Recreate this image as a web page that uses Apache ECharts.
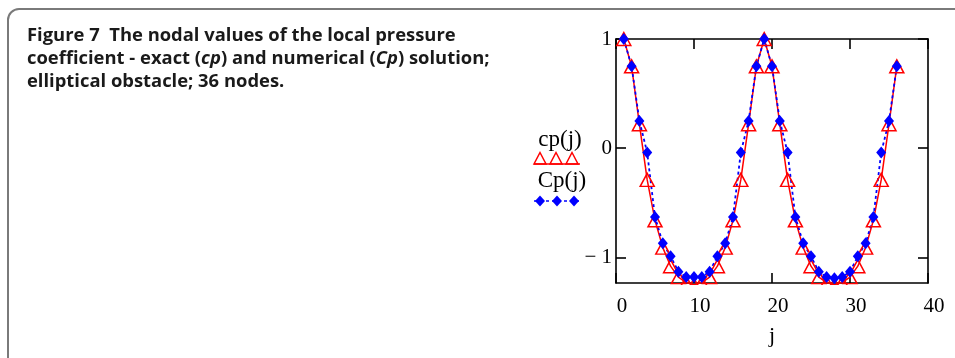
<!DOCTYPE html>
<html>
<head>
<meta charset="utf-8">
<script src="https://cdn.jsdelivr.net/npm/echarts@6/dist/echarts.min.js"></script>
<style>html,body{margin:0;padding:0;background:#fff}#c{width:955px;height:358px}</style>
</head>
<body>
<div id="c"></div>
<script>
// node index j
const nodes = [1,2,3,4,5,6,7,8,9,10,11,12,13,14,15,16,17,18,19,20,21,22,23,24,25,26,27,28,29,30,31,32,33,34,35,36];
// exact solution cp(j)
const cpExact = [1, 0.75, 0.22, -0.29, -0.66, -0.91, -1.08, -1.18, -1.23, -1.25, -1.23, -1.18, -1.08, -0.91, -0.66, -0.29, 0.22, 0.75,
                 1, 0.75, 0.22, -0.29, -0.66, -0.91, -1.08, -1.18, -1.23, -1.25, -1.23, -1.18, -1.08, -0.91, -0.66, -0.29, 0.22, 0.75];
// numerical solution Cp(j)
const cpNum = [1, 0.75, 0.25, -0.04, -0.63, -0.87, -0.99, -1.13, -1.18, -1.18, -1.18, -1.13, -0.99, -0.87, -0.63, -0.04, 0.25, 0.75,
               1, 0.75, 0.25, -0.04, -0.63, -0.87, -0.99, -1.13, -1.18, -1.19, -1.18, -1.13, -0.99, -0.87, -0.63, -0.04, 0.25, 0.75];
const xTicks = [0, 10, 20, 30, 40];
const yTicks = [-1, 0, 1];

const serif = '"Liberation Serif", "DejaVu Serif", serif';
const chart = echarts.init(document.getElementById('c'), null, {renderer: 'canvas'});
const axisLine = {show: true, onZero: false, lineStyle: {color: '#000', width: 1.6}};
const tick = {show: true, inside: true, length: 10, lineStyle: {color: '#000', width: 1.6}};

chart.setOption({
  animation: false,
  backgroundColor: '#fff',
  title: {
    left: 22, top: 19,
    text: '{b|Figure 7  The nodal values of the local pressure}\n{b|coefficient - exact (}{i|cp}{b|) and numerical (}{i|Cp}{b|) solution;}\n{b|elliptical obstacle; 36 nodes.}',
    textStyle: {
      rich: {
        b: {fontFamily: '"Open Sans"', fontWeight: 'bold', fontSize: 18.4, color: '#1a1a1a', lineHeight: 23.3},
        i: {fontFamily: '"Open Sans"', fontWeight: 'bold', fontStyle: 'italic', fontSize: 18.4, color: '#1a1a1a', lineHeight: 23.3}
      }
    }
  },
  grid: {left: 616, right: 27, top: 39, bottom: 75, containLabel: false},
  xAxis: [{
    type: 'value', min: xTicks[0], max: xTicks[xTicks.length - 1], interval: 10,
    axisLine: axisLine, axisTick: tick, splitLine: {show: false},
    axisLabel: {fontFamily: serif, fontSize: 21, color: '#000', margin: 13, padding: [0, 0, 0, 12]},
    name: 'j', nameLocation: 'middle', nameGap: 42,
    nameTextStyle: {fontFamily: serif, fontSize: 22, color: '#000'}
  }, {
    type: 'value', position: 'top', min: xTicks[0], max: xTicks[xTicks.length - 1], interval: 10,
    axisLine: axisLine, axisTick: tick, axisLabel: {show: false}, splitLine: {show: false}
  }],
  yAxis: [{
    type: 'value', min: -1.234, max: 1,
    axisLine: axisLine,
    axisTick: Object.assign({}, tick, {customValues: yTicks}),
    splitLine: {show: false},
    axisLabel: {customValues: yTicks, fontFamily: serif, fontSize: 21, color: '#000', margin: 4,
      formatter: v => v < 0 ? '\u2212 ' + Math.abs(v) : String(v)}
  }, {
    type: 'value', position: 'right', min: -1.234, max: 1,
    axisLine: axisLine,
    axisTick: Object.assign({}, tick, {customValues: yTicks}),
    splitLine: {show: false}, axisLabel: {show: false}
  }],
  graphic: [
    {type: 'rect', shape: {x: 8, y: 9, width: 1100, height: 500, r: 11},
     style: {fill: 'none', stroke: '#7a7a7a', lineWidth: 2}, z: 0, silent: true},
    {type: 'rect', shape: {x: 612, y: 285, width: 322, height: 9},
     style: {fill: '#fff'}, z: 100, silent: true},
    // legend
    {type: 'text', x: 560, y: 140, style: {text: 'cp(j)', font: '23px ' + serif, fill: '#000', align: 'center', verticalAlign: 'middle'}},
    {type: 'line', shape: {x1: 534, y1: 164, x2: 580, y2: 164}, style: {stroke: '#ff0000', lineWidth: 1.5}},
    {type: 'polygon', shape: {points: [[540, 152.5], [534, 164], [546, 164]]}, style: {fill: 'none', stroke: '#ff0000', lineWidth: 1.5}},
    {type: 'polygon', shape: {points: [[556, 152.5], [550, 164], [562, 164]]}, style: {fill: 'none', stroke: '#ff0000', lineWidth: 1.5}},
    {type: 'polygon', shape: {points: [[572, 152.5], [566, 164], [578, 164]]}, style: {fill: 'none', stroke: '#ff0000', lineWidth: 1.5}},
    {type: 'text', x: 562, y: 181, style: {text: 'Cp(j)', font: '23px ' + serif, fill: '#000', align: 'center', verticalAlign: 'middle'}},
    {type: 'line', shape: {x1: 534, y1: 201, x2: 580, y2: 201}, style: {stroke: '#0000ff', lineWidth: 1.5, lineDash: [3, 3]}},
    {type: 'polygon', shape: {points: [[540, 195.5], [545, 201], [540, 206.5], [535, 201]]}, style: {fill: '#0000ff'}},
    {type: 'polygon', shape: {points: [[557, 195.5], [562, 201], [557, 206.5], [552, 201]]}, style: {fill: '#0000ff'}},
    {type: 'polygon', shape: {points: [[574, 195.5], [579, 201], [574, 206.5], [569, 201]]}, style: {fill: '#0000ff'}}
  ],
  series: [{
    name: 'cp(j)', type: 'line', xAxisIndex: 0, yAxisIndex: 0, clip: false,
    data: nodes.map((j, i) => [j, cpExact[i]]),
    symbol: 'triangle', symbolSize: [14, 13],
    lineStyle: {color: '#ff0000', width: 1.5},
    itemStyle: {color: 'rgba(255,255,255,0)', borderColor: '#ff0000', borderWidth: 1.5}
  }, {
    name: 'Cp(j)', type: 'line', xAxisIndex: 0, yAxisIndex: 0, clip: false,
    data: nodes.map((j, i) => [j, cpNum[i]]),
    symbol: 'diamond', symbolSize: [10, 12],
    lineStyle: {color: '#0000ff', width: 1.8, type: [3, 3]},
    itemStyle: {color: '#0000ff'}
  }]
});
</script>
</body>
</html>
